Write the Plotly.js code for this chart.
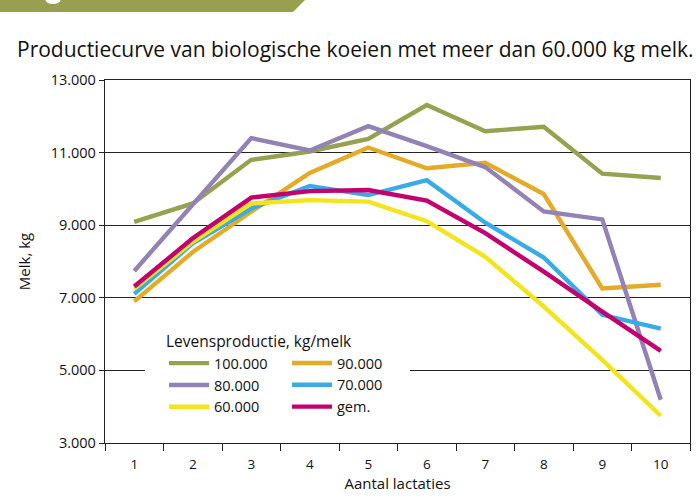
<!DOCTYPE html>
<html>
<head>
<meta charset="utf-8">
<script src="https://cdn.plot.ly/plotly-3.0.1.min.js"></script>
<style>html,body{margin:0;padding:0;background:#fff;}#chart{width:697px;height:497px;}</style>
</head>
<body>
<div id="chart"></div>
<script>
// Data
const lactaties = ["1","2","3","4","5","6","7","8","9","10"];
const seriesNames = ["100.000","90.000","80.000","70.000","60.000","gem."];
const v100 = [9090, 9600, 10800, 11030, 11380, 12310, 11590, 11710, 10420, 10300];
const v90  = [6900, 8260, 9370, 10440, 11140, 10570, 10720, 9860, 7260, 7360];
const v80  = [7740, 9560, 11400, 11060, 11730, 11180, 10600, 9380, 9160, 4190];
const v70  = [7110, 8500, 9460, 10080, 9830, 10240, 9070, 8110, 6530, 6150];
const v60  = [7250, 8540, 9600, 9690, 9650, 9110, 8130, 6760, 5290, 3750];
const vGem = [7310, 8640, 9760, 9940, 9970, 9680, 8780, 7720, 6620, 5540];
const yTicks = [3000, 5000, 7000, 9000, 11000, 13000];

const colors = ["#96a24f", "#e3ab27", "#9282b6", "#39abe6", "#f4e41c", "#c3006d"];
const allValues = [v100, v90, v80, v70, v60, vGem];
// column 1 of legend: 100.000, 80.000, 60.000 ; column 2: 90.000, 70.000, gem.
const legendOf = ["legend", "legend2", "legend", "legend2", "legend", "legend2"];

const W = 697, H = 497;
const M = {l: 105, r: 7, t: 80, b: 54};
const PW = W - M.l - M.r, PH = H - M.t - M.b;
const px = x => (x - M.l) / PW;
const py = y => (H - M.b - y) / PH;

const FONT = "Open Sans, Noto Sans, sans-serif";

const traces = allValues.map((vals, i) => ({
  type: "scatter",
  mode: "lines",
  x: lactaties,
  y: vals,
  name: seriesNames[i],
  legend: legendOf[i],
  line: {color: colors[i], width: 4.4},
  hoverinfo: "x+y+name"
}));

const layout = {
  width: W, height: H,
  margin: M,
  paper_bgcolor: "#fff",
  plot_bgcolor: "#fff",
  separators: ",.",
  font: {family: FONT, color: "#1a1a1a", size: 14},
  title: {
    text: "Productiecurve van biologische koeien met meer dan 60.000 kg melk.",
    font: {family: FONT, size: 21, color: "#111"},
    xref: "container", yref: "container",
    x: 17 / W, xanchor: "left",
    y: 1 - 50 / H, yanchor: "middle"
  },
  xaxis: {
    type: "category",
    range: [-0.5, 9.5],
    tickson: "boundaries",
    ticks: "outside", ticklen: 7, tickwidth: 1, tickcolor: "#222",
    showline: true, linecolor: "#222", linewidth: 1.2, mirror: true,
    showgrid: false, zeroline: false,
    tickfont: {family: FONT, size: 13.5, color: "#111"},
    ticklabelstandoff: 9,
    title: {text: "Aantal lactaties", font: {family: FONT, size: 15, color: "#111"}, standoff: 1},
    fixedrange: true
  },
  yaxis: {
    range: [3000, 13000],
    tickvals: yTicks,
    tickformat: ",d",
    ticks: "outside", ticklen: 5, tickwidth: 1, tickcolor: "#222",
    showline: true, linecolor: "#222", linewidth: 1.2, mirror: true,
    showgrid: true, gridcolor: "#222", gridwidth: 1,
    zeroline: false,
    tickfont: {family: FONT, size: 14.5, color: "#111"},
    title: {text: "Melk, kg", font: {family: FONT, size: 15, color: "#111"}, standoff: 16},
    fixedrange: true
  },
  legend: {
    x: px(164), y: py(327), xanchor: "left", yanchor: "top",
    bgcolor: "rgba(255,255,255,0)", borderwidth: 0,
    orientation: "v",
    title: {text: "Levensproductie, kg/melk", font: {family: FONT, size: 15.5, color: "#111"}},
    font: {family: FONT, size: 14.5, color: "#111"},
    tracegroupgap: 0,
    itemwidth: 40
  },
  legend2: {
    x: px(287), y: py(347), xanchor: "left", yanchor: "top",
    bgcolor: "rgba(255,255,255,0)", borderwidth: 0,
    orientation: "v",
    font: {family: FONT, size: 14.5, color: "#111"},
    tracegroupgap: 0,
    itemwidth: 40
  },
  shapes: [
    { // green banner at top
      type: "path", xref: "paper", yref: "paper",
      path: "M " + px(-2) + " " + py(-2) + " L " + px(307) + " " + py(-2) + " L " + px(293) + " " + py(12) + " L " + px(-2) + " " + py(12) + " Z",
      fillcolor: "#96a04e", line: {width: 0}, layer: "above"
    },
    { // white descender fragment inside banner
      type: "path", xref: "paper", yref: "paper",
      path: "M " + px(45) + " " + py(-1) + " Q " + px(46) + " " + py(4) + " " + px(53) + " " + py(4) + " Q " + px(60) + " " + py(4) + " " + px(61) + " " + py(-1) + " Z",
      fillcolor: "#ffffff", line: {width: 0}, layer: "above"
    },
    { // white legend box covering the gridline
      type: "rect", xref: "paper", yref: "paper",
      x0: px(145), x1: px(410), y0: py(332), y1: py(410),
      fillcolor: "#ffffff", line: {width: 0}, layer: "above"
    }
  ],
  showlegend: true
};

Plotly.newPlot("chart", traces, layout, {displayModeBar: false, staticPlot: true});
</script>
</body>
</html>
